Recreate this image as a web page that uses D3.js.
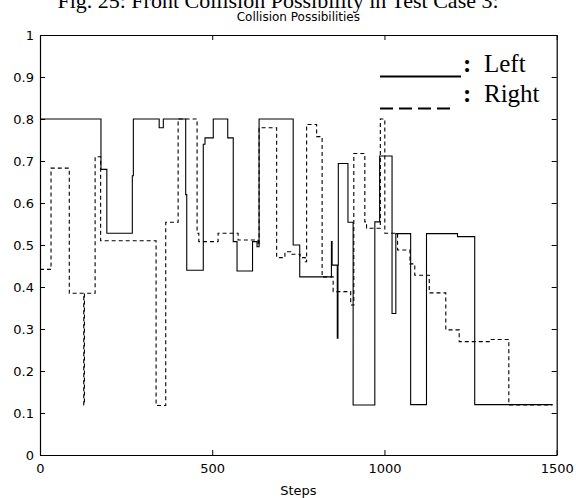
<!DOCTYPE html>
<html>
<head>
<meta charset="utf-8">
<script src="https://cdn.jsdelivr.net/npm/d3@7"></script>
<style>
  body { margin: 0; background: #fff; }
  svg { display: block; }
</style>
</head>
<body>
<svg id="chart" width="576" height="498"></svg>
<script>
/** Step positions where the Left possibility changes, and its value from there on */
var leftSteps = [0, 177, 194, 268, 271, 346, 358, 423, 426, 474, 479, 503, 545, 561, 572, 617, 630, 636,
    735, 754, 846, 848, 863, 865, 866, 894, 909, 972, 986, 1022, 1033, 1076, 1122, 1212, 1262, 1488];
var leftValues = [0.8, 0.68, 0.528, 0.665, 0.8, 0.779, 0.8, 0.62, 0.44, 0.74, 0.755, 0.8, 0.755, 0.508, 0.438, 0.508, 0.496, 0.8,
    0.5, 0.424, 0.508, 0.452, 0.278, 0.452, 0.694, 0.554, 0.119, 0.555, 0.712, 0.337, 0.527, 0.12, 0.527, 0.52, 0.12, 0.12];

/** Same for the Right possibility (dashed) */
var rightSteps = [0, 32, 85, 127, 129, 160, 176, 337, 365, 401, 456, 461, 517, 575, 633, 636, 687, 711, 728, 755, 770,
    774, 803, 819, 851, 902, 911, 943, 948, 988, 1001, 1038, 1074, 1088, 1130, 1178, 1217, 1306, 1361, 1488];
var rightValues = [0.442, 0.683, 0.385, 0.119, 0.385, 0.71, 0.51, 0.118, 0.554, 0.8, 0.528, 0.508, 0.528, 0.512, 0.5, 0.779, 0.47, 0.484, 0.478, 0.47, 0.46,
    0.787, 0.758, 0.424, 0.389, 0.357, 0.718, 0.555, 0.54, 0.8, 0.528, 0.488, 0.455, 0.428, 0.386, 0.298, 0.27, 0.275, 0.119, 0.119];

/** Tick values */
var xTicks = [0, 500, 1000, 1500];
var yTicks = [0, 0.1, 0.2, 0.3, 0.4, 0.5, 0.6, 0.7, 0.8, 0.9, 1];

/** Texts */
var captionText = 'Fig. 25: Front Collision Possibility in Test Case 3:',
    titleText = 'Collision Possibilities',
    xLabelText = 'Steps',
    legendNames = ['Left', 'Right'];

/** Plot box (not named top/left: window.top is read only) */
var boxLeft = 40, boxRight = 556.7, boxTop = 35, boxBottom = 455;

var xScale = d3.scaleLinear().domain([0, 1500]).range([boxLeft, boxRight]);
var yScale = d3.scaleLinear().domain([0, 1]).range([boxBottom, boxTop]);

var svg = d3.select('#chart');
var tickFont = '"DejaVu Sans", sans-serif';

drawAxes();
drawSeries(leftSteps, leftValues, null);
drawSeries(rightSteps, rightValues, '4,3');
drawLegend();
drawTexts();

function drawAxes() {
    // left axis with labels, ticks pointing in
    svg.append('g')
        .attr('transform', 'translate(' + boxLeft + ',0)')
        .call(d3.axisLeft(yScale).tickValues(yTicks).tickSizeInner(-5).tickSizeOuter(0)
            .tickPadding(6).tickFormat(d3.format('~g')));
    // right axis, ticks only
    svg.append('g')
        .attr('transform', 'translate(' + boxRight + ',0)')
        .call(d3.axisRight(yScale).tickValues(yTicks).tickSizeInner(-5).tickSizeOuter(0).tickFormat(''));
    // bottom axis with labels
    svg.append('g')
        .attr('transform', 'translate(0,' + boxBottom + ')')
        .call(d3.axisBottom(xScale).tickValues(xTicks).tickSizeInner(-5).tickSizeOuter(0)
            .tickPadding(9).tickFormat(d3.format('d')));
    // top axis, ticks only
    svg.append('g')
        .attr('transform', 'translate(0,' + boxTop + ')')
        .call(d3.axisTop(xScale).tickValues(xTicks).tickSizeInner(-5).tickSizeOuter(0).tickFormat(''));

    svg.selectAll('.domain').attr('stroke', '#000').attr('stroke-width', 1.2);
    svg.selectAll('.tick line').attr('stroke', '#000');
    svg.selectAll('.tick text')
        .attr('fill', '#000')
        .style('font-family', tickFont)
        .style('font-size', '13px');
}

function drawSeries(steps, values, dash) {
    var points = steps.map(function(s, i) { return [s, values[i]]; });
    var line = d3.line()
        .x(function(d) { return xScale(d[0]); })
        .y(function(d) { return yScale(d[1]); })
        .curve(d3.curveStepAfter);
    svg.append('path')
        .datum(points)
        .attr('d', line)
        .attr('fill', 'none')
        .attr('stroke', '#000')
        .attr('stroke-width', 1.1)
        .attr('stroke-dasharray', dash);
}

function drawLegend() {
    var serif = '"Liberation Serif", "Times New Roman", serif';
    var rows = [{ y: 76.5, base: 72, dash: null }, { y: 108.5, base: 102, dash: '13,6' }];
    rows.forEach(function(r, i) {
        svg.append('line')
            .attr('x1', 380).attr('x2', i === 0 ? 461 : 455)
            .attr('y1', r.y).attr('y2', r.y)
            .attr('stroke', '#000').attr('stroke-width', 1.8)
            .attr('stroke-dasharray', r.dash);
        svg.append('text')
            .attr('x', 463).attr('y', r.base)
            .style('font-family', serif).style('font-size', '25px').style('font-weight', 'bold')
            .text(':');
        svg.append('text')
            .attr('x', 484).attr('y', r.base)
            .style('font-family', serif).style('font-size', '25px')
            .text(legendNames[i]);
    });
}

function drawTexts() {
    svg.append('text')
        .attr('x', 278).attr('y', 8)
        .attr('text-anchor', 'middle')
        .style('font-family', '"Liberation Serif", "Times New Roman", serif')
        .style('font-size', '22px')
        .text(captionText);
    svg.append('text')
        .attr('x', (boxLeft + boxRight) / 2).attr('y', 21)
        .attr('text-anchor', 'middle')
        .style('font-family', tickFont)
        .style('font-size', '12px')
        .text(titleText);
    svg.append('text')
        .attr('x', (boxLeft + boxRight) / 2).attr('y', 495)
        .attr('text-anchor', 'middle')
        .style('font-family', tickFont)
        .style('font-size', '13px')
        .text(xLabelText);
}
</script>
</body>
</html>
